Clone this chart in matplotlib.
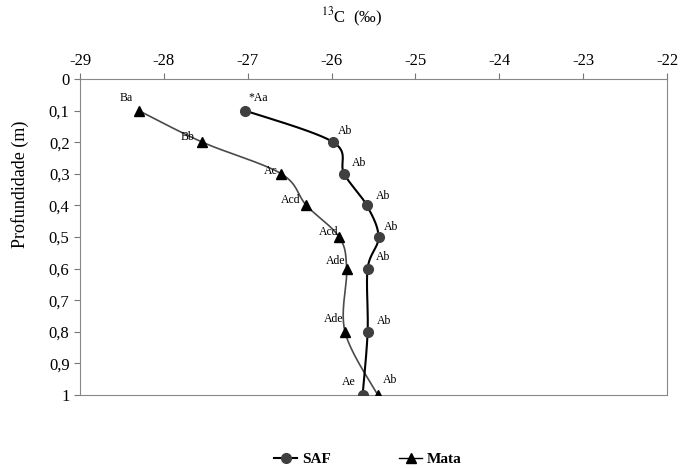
import numpy as np
from matplotlib import pyplot as plt
from matplotlib.ticker import FuncFormatter

depth = [0.1, 0.2, 0.3, 0.4, 0.5, 0.6, 0.8, 1.0]
saf = [-27.03, -25.98, -25.85, -25.58, -25.44, -25.57, -25.57, -25.63]
mata = [-28.30, -27.54, -26.60, -26.30, -25.91, -25.82, -25.84, -25.45]
saf_lab = ['*Aa', 'Ab', 'Ab', 'Ab', 'Ab', 'Ab', 'Ab', 'Ae']
mata_lab = ['Ba', 'Bb', 'Ac', 'Acd', 'Acd', 'Ade', 'Ade', 'Ab']

saf_off = [(13, 13), (12, 11), (15, 11), (16, 9), (13, 10), (15, 12), (16, 11), (-14, 13)]
mata_off = [(-12, 13), (-15, 5), (-10, 3), (-16, 5), (-10, 5), (-11, 8), (-11, 13), (12, 15)]

plt.rcParams['font.family'] = ['Liberation Serif', 'DejaVu Serif']
plt.rcParams['axes.unicode_minus'] = False
plt.rcParams['mathtext.fontset'] = 'stix'


def smooth(xs, ys, sx=83.9, sy=316.0, n=30):
    # catmull-rom in screen-like units, like excel's smoothed lines
    p = np.column_stack([np.array(xs) * sx, np.array(ys) * sy])
    p = np.vstack([p[0], p, p[-1]])
    out = []
    for i in range(1, len(p) - 2):
        p0, p1, p2, p3 = p[i - 1], p[i], p[i + 1], p[i + 2]
        t = np.linspace(0, 1, n)[:, None]
        seg = 0.5 * ((2 * p1) + (-p0 + p2) * t + (2 * p0 - 5 * p1 + 4 * p2 - p3) * t ** 2
                     + (-p0 + 3 * p1 - 3 * p2 + p3) * t ** 3)
        out.append(seg)
    out = np.vstack(out)
    return out[:, 0] / sx, out[:, 1] / sy


fig = plt.figure(figsize=(6.8, 4.68), dpi=100)
ax = fig.add_axes([80 / 680, 1 - 395 / 468, 587 / 680, 316 / 468])

mx, my = smooth(mata, depth)
ax.plot(mx, my, color='#4a4a4a', lw=1.2, zorder=2)
ax.plot(mata, depth, ls='none', marker='^', color='black', ms=7, zorder=3)
sx_, sy_ = smooth(saf, depth)
ax.plot(sx_, sy_, color='black', lw=1.5, zorder=2)
ax.plot(saf, depth, ls='none', marker='o', color='#3f3f3f', ms=7, zorder=3)

for x, y, t, o in zip(saf, depth, saf_lab, saf_off):
    ax.annotate(t, (x, y), xytext=o, textcoords='offset pixels', ha='center', va='center', fontsize=8.5)
for x, y, t, o in zip(mata, depth, mata_lab, mata_off):
    ax.annotate(t, (x, y), xytext=o, textcoords='offset pixels', ha='center', va='center', fontsize=8.5)

ax.set_xlim(-29, -22)
ax.set_ylim(1, 0)
ax.set_xticks(range(-29, -21))
ax.set_yticks(np.arange(0, 1.01, 0.1))
ax.yaxis.set_major_formatter(FuncFormatter(lambda v, p: ('%.1f' % v).replace('.', ',') if 0 < v < 0.99 else '%d' % round(v)))
ax.xaxis.tick_top()
ax.tick_params(axis='both', direction='out', length=4, color='#777777', labelsize=12)
for s in ax.spines.values():
    s.set_color('#888888')

fig.text(352 / 680, 1 - 17 / 468, r'$^{13}$C  (‰)', ha='center', va='center', fontsize=12)
fig.text(20 / 680, 1 - 184 / 468, 'Profundidade (m)', rotation=90, ha='center', va='center', fontsize=13)

h1, = ax.plot([], [], color='black', marker='o', mfc='#3f3f3f', mec='#3f3f3f', ms=7, lw=1.5)
h2, = ax.plot([], [], color='black', marker='^', ms=7, lw=1.0)
fig.legend([h1, h2], ['SAF', 'Mata'], loc='center', bbox_to_anchor=(368 / 680, 1 - 459 / 468),
           ncol=2, frameon=False, handlelength=1.5, handletextpad=0.3, columnspacing=4.5,
           prop={'weight': 'bold', 'size': 11, 'family': 'Liberation Serif'})

fig.savefig('out.png', dpi=100)
